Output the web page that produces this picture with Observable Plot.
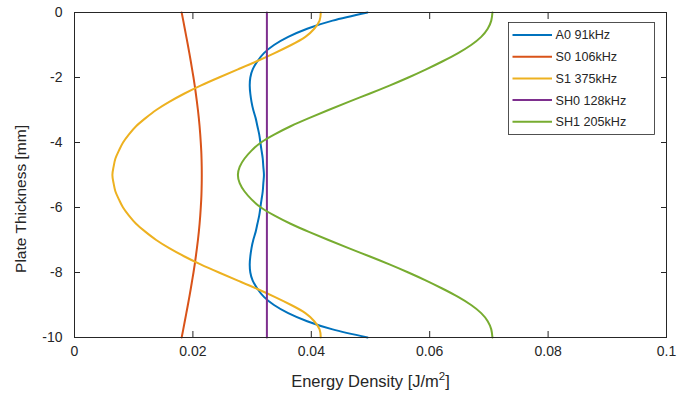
<!DOCTYPE html>
<html><head><meta charset="utf-8">
<script src="https://cdn.jsdelivr.net/npm/d3@7"></script>
<script src="https://cdn.jsdelivr.net/npm/@observablehq/plot@0.6"></script>
<style>body{margin:0;background:#fff;} #chart{width:697px;height:396px;}</style>
</head><body><div id="chart"></div>
<script>
// Plate thickness positions (mm)
const thickness = [0, -0.25, -0.5, -0.75, -1, -1.25, -1.5, -1.75, -2, -2.25, -2.5, -2.75, -3, -3.25, -3.5, -3.75, -4, -4.25, -4.5, -4.75, -5,
  -5.25, -5.5, -5.75, -6, -6.25, -6.5, -6.75, -7, -7.25, -7.5, -7.75, -8, -8.25, -8.5, -8.75, -9, -9.25, -9.5, -9.75, -10];
// Energy density (J/m^2) per mode
const a0 = [0.0495, 0.0436, 0.0393, 0.0361, 0.0337, 0.0320, 0.0309, 0.0301, 0.0297, 0.0296, 0.0297, 0.0299, 0.0302, 0.0306, 0.0309, 0.0312, 0.0314, 0.0316, 0.0318, 0.0319, 0.0320,
  0.0319, 0.0318, 0.0316, 0.0314, 0.0312, 0.0309, 0.0306, 0.0302, 0.0299, 0.0297, 0.0296, 0.0297, 0.0301, 0.0309, 0.0320, 0.0337, 0.0361, 0.0393, 0.0436, 0.0495];
const s0 = [0.01810, 0.01837, 0.01863, 0.01889, 0.01915, 0.01940, 0.01964, 0.01987, 0.02010, 0.02031, 0.02050, 0.02068, 0.02085, 0.02100, 0.02113, 0.02124, 0.02133, 0.02141, 0.02146, 0.02149, 0.02150,
  0.02149, 0.02146, 0.02141, 0.02133, 0.02124, 0.02113, 0.02100, 0.02085, 0.02068, 0.02050, 0.02031, 0.02010, 0.01987, 0.01964, 0.01940, 0.01915, 0.01889, 0.01863, 0.01837, 0.01810];
const s1 = [0.0416, 0.0414, 0.0405, 0.0390, 0.0366, 0.0338, 0.0308, 0.0276, 0.0244, 0.0213, 0.0185, 0.0160, 0.0138, 0.0120, 0.0104, 0.0092, 0.0082, 0.0075, 0.0069, 0.0066, 0.0064,
  0.0066, 0.0069, 0.0075, 0.0082, 0.0092, 0.0104, 0.0120, 0.0138, 0.0160, 0.0185, 0.0213, 0.0244, 0.0276, 0.0308, 0.0338, 0.0366, 0.0390, 0.0405, 0.0414, 0.0416];
const sh0 = [0.0325, 0.0325, 0.0325, 0.0325, 0.0325, 0.0325, 0.0325, 0.0325, 0.0325, 0.0325, 0.0325, 0.0325, 0.0325, 0.0325, 0.0325, 0.0325, 0.0325, 0.0325, 0.0325, 0.0325, 0.0325,
  0.0325, 0.0325, 0.0325, 0.0325, 0.0325, 0.0325, 0.0325, 0.0325, 0.0325, 0.0325, 0.0325, 0.0325, 0.0325, 0.0325, 0.0325, 0.0325, 0.0325, 0.0325, 0.0325, 0.0325];
const sh1 = [0.0706, 0.0704, 0.0698, 0.0687, 0.0670, 0.0648, 0.0622, 0.0594, 0.0564, 0.0532, 0.0498, 0.0463, 0.0429, 0.0396, 0.0365, 0.0338, 0.0315, 0.0299, 0.0287, 0.0279, 0.0276,
  0.0279, 0.0287, 0.0299, 0.0315, 0.0338, 0.0365, 0.0396, 0.0429, 0.0463, 0.0498, 0.0532, 0.0564, 0.0594, 0.0622, 0.0648, 0.0670, 0.0687, 0.0698, 0.0704, 0.0706];

const seriesNames = ["A0 91kHz", "S0 106kHz", "S1 375kHz", "SH0 128kHz", "SH1 205kHz"];
const seriesColors = ["#0072BD", "#D95319", "#EDB120", "#7E2F8E", "#77AC30"];
const seriesValues = [a0, s0, s1, sh0, sh1];
const xTicks = [0, 0.02, 0.04, 0.06, 0.08, 0.1];
const yTicks = [0, -2, -4, -6, -8, -10];

const rows = seriesNames.flatMap((name, i) =>
  thickness.map((t, j) => ({series: name, thickness: t, energy: seriesValues[i][j]})));

const chart = Plot.plot({
  width: 697, height: 396,
  marginLeft: 74, marginRight: 31, marginTop: 12, marginBottom: 59,
  style: {fontFamily: "'Liberation Sans', Arial, sans-serif", fontSize: "14px", color: "#262626", background: "#fff"},
  x: {domain: [0, 0.1]},
  y: {domain: [-10, 0]},
  color: {domain: seriesNames, range: seriesColors},
  marks: [
    Plot.line(rows, {x: "energy", y: "thickness", z: "series", stroke: "series", strokeWidth: 2, curve: "natural"}),
    Plot.frame({stroke: "#262626"}),
    Plot.axisX({anchor: "bottom", ticks: xTicks, tickFormat: d => String(d), tickSize: -6, tickPadding: 15, label: null}),
    Plot.axisX({anchor: "top", ticks: xTicks, tickSize: -6, fill: "none", label: null}),
    Plot.axisY({anchor: "left", ticks: yTicks, tickFormat: d => String(d), tickSize: -6, tickPadding: 18, label: null}),
    Plot.axisY({anchor: "right", ticks: yTicks, tickSize: -6, fill: "none", label: null})
  ]
});

const svg = d3.select(chart);
// Axis titles
const xl = svg.append("text")
  .attr("x", 370.5).attr("y", 387)
  .attr("text-anchor", "middle")
  .attr("fill", "#262626")
  .style("font-size", "16.5px");
xl.append("tspan").text("Energy Density [J/m");
xl.append("tspan").attr("dy", -7).style("font-size", "11.5px").text("2");
xl.append("tspan").attr("dy", 7).text("]");

svg.append("text")
  .attr("transform", "translate(25.5,199) rotate(-90)")
  .attr("text-anchor", "middle")
  .attr("fill", "#262626")
  .style("font-size", "15.5px")
  .text("Plate Thickness [mm]");

// Legend
const lg = svg.append("g").attr("text-anchor", "start");
lg.append("rect").attr("x", 508.5).attr("y", 22.5).attr("width", 146).attr("height", 112)
  .attr("fill", "#fff").attr("stroke", "#262626").attr("stroke-width", 0.8);
seriesNames.forEach((name, i) => {
  const y = 35 + i * 21.7;
  lg.append("line").attr("x1", 512.5).attr("x2", 552).attr("y1", y).attr("y2", y)
    .attr("stroke", seriesColors[i]).attr("stroke-width", 2);
  lg.append("text").attr("x", 555.5).attr("y", y).attr("dy", "0.35em")
    .attr("text-anchor", "start")
    .attr("fill", "#262626").style("font-size", "12.6px").text(name);
});

document.getElementById("chart").appendChild(chart);
</script>
</body></html>
